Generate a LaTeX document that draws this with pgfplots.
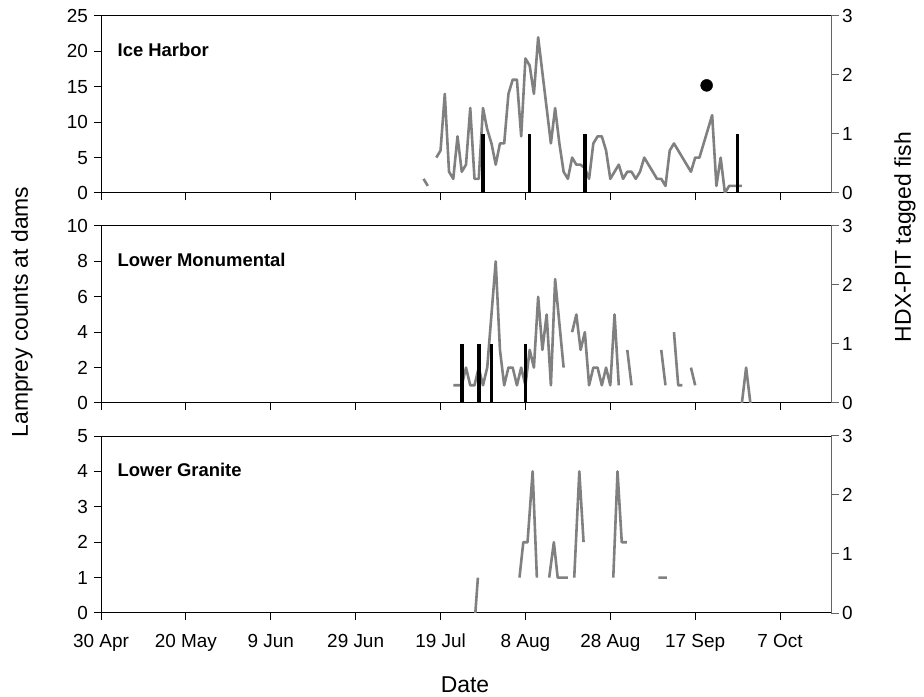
\documentclass[border=0pt]{standalone}
\usepackage{fontspec}
\setmainfont{Liberation Sans}
\usepackage{pgfplots}
\usepackage{pgfplotstable}
\pgfplotsset{compat=1.18}
\definecolor{linegray}{RGB}{128,128,128}
\definecolor{spinegray}{RGB}{100,100,100}
\newcommand{\ticksize}{\fontsize{19}{22}\selectfont}
\newcommand{\axsize}{\fontsize{23}{27}\selectfont}
\newcommand{\titlesize}{\fontsize{18.5}{22}\selectfont\bfseries}

\pgfplotstableread{
d v
76 2
77 1
78 nan
79 5
80 6
81 14
82 3
83 2
84 8
85 3
86 4
87 12
88 2
89 2
90 12
91 9
92 7
93 4
94 7
95 7
96 14
97 16
98 16
99 8
100 19
101 18
102 14
103 22
104 17
105 12
106 7
107 12
108 7
109 3
110 2
111 5
112 4
113 4
114 3.5
115 2
116 7
117 8
118 8
119 6
120 2
121 3
122 4
123 2
124 3
125 3
126 2
127 3
128 5
129 4
130 3
131 2
132 2
133 1
134 6
135 7
136 6
137 5
138 4
139 3
140 5
141 5
142 7
143 9
144 11
145 1
146 5
147 0
148 1
149 1
150 1
151 1
}\icedata

\pgfplotstableread{
d v
83 1
84 1
85 1
86 2
87 1
88 1
89 2
90 1
91 2
92 5
93 8
94 3
95 1
96 2
97 2
98 1
99 2
100 1
101 3
102 2
103 6
104 3
105 5
106 1
107 7
109 2
110 nan
111 4
112 5
113 3
114 4
115 1
116 2
117 2
118 1
119 2
120 1
121 5
122 1
123 nan
124 3
125 1
126 nan
132 3
133 1
134 nan
135 4
136 1
137 1
138 nan
139 2
140 1
145 nan
151 0
152 2
153 0
}\lmdata

\pgfplotstableread{
d v
88.2 0
88.8 1
90 nan
98.6 1
99.5 2
100.5 2
101.7 4
102.7 1
104 nan
105.6 1
106.7 2
107.6 1
108.6 1
110 1
110.8 nan
111.5 1
112.7 4
113.7 2
116 nan
120.7 1
121.7 4
122.7 2
123.9 2
125 nan
131.3 1
133.3 1
}\lgdata

\pgfplotsset{
  base/.style={scale only axis, width=730bp, height=177bp, xmin=0, xmax=172,
    anchor=south west, tick align=outside, major tick length=7.5bp,
    /pgf/number format/assume math mode=true,
    tick label style={font=\ticksize, black}},
  leftax/.style={base, axis line style={line width=1bp, black},
    tick style={line width=1bp, black},
    xtick={0,20,...,160}, xtick pos=bottom, ytick pos=left,
    xticklabels={}, xticklabel shift=10bp, yticklabel shift=2bp,
    unbounded coords=jump},
  rightax/.style={base, axis x line=none, axis y line*=right,
    ymin=0, ymax=3, ytick={0,1,2,3}, xtick=\empty,
    y axis line style={spinegray, line width=1bp},
    tick style={line width=1bp, spinegray}},
  grayline/.style={linegray, line width=2.6bp, no markers, line join=round},
  bars/.style={ycomb, black, line width=3.6bp, no markers},
}
\tikzset{ptitle/.style={anchor=west, font=\titlesize}}

\begin{document}
\begin{tikzpicture}
\path[use as bounding box] (0,0) rectangle (924bp,697bp);

% Panel 1: Ice Harbor
\begin{axis}[leftax, at={(101bp,504bp)}, ymin=0, ymax=25, ytick={0,5,...,25}]
\addplot[grayline] table[x=d, y=v] {\icedata};
\addplot[only marks, mark=*, mark size=6bp, black] coordinates {(142.7,15.2)};
\node[ptitle] at (axis description cs:0.018,0.81) {Ice Harbor};
\end{axis}
\begin{axis}[rightax, at={(101bp,504bp)}]
\addplot[bars] coordinates {(90,1) (101,1) (114,1) (150,1)};
\end{axis}

% Panel 2: Lower Monumental
\begin{axis}[leftax, at={(101bp,294bp)}, ymin=0, ymax=10, ytick={0,2,...,10}]
\addplot[grayline] table[x=d, y=v] {\lmdata};
\node[ptitle] at (axis description cs:0.018,0.81) {Lower Monumental};
\end{axis}
\begin{axis}[rightax, at={(101bp,294bp)}]
\addplot[bars] coordinates {(85,1) (89,1) (92,1) (100,1)};
\end{axis}

% Panel 3: Lower Granite
\begin{axis}[leftax, at={(101bp,84bp)}, ymin=0, ymax=5, ytick={0,1,...,5},
  xticklabels={30 Apr,20 May,9 Jun,29 Jun,19 Jul,8 Aug,28 Aug,17 Sep,7 Oct}]
\addplot[grayline] table[x=d, y=v] {\lgdata};
\node[ptitle] at (axis description cs:0.018,0.81) {Lower Granite};
\end{axis}
\begin{axis}[rightax, at={(101bp,84bp)}]
\end{axis}

\node[rotate=90, font=\axsize] at (22bp,385bp) {Lamprey counts at dams};
\node[rotate=90, font=\axsize] at (905bp,460bp) {HDX-PIT tagged fish};
\node[font=\axsize] at (465bp,12.5bp) {Date};
\end{tikzpicture}
\end{document}
